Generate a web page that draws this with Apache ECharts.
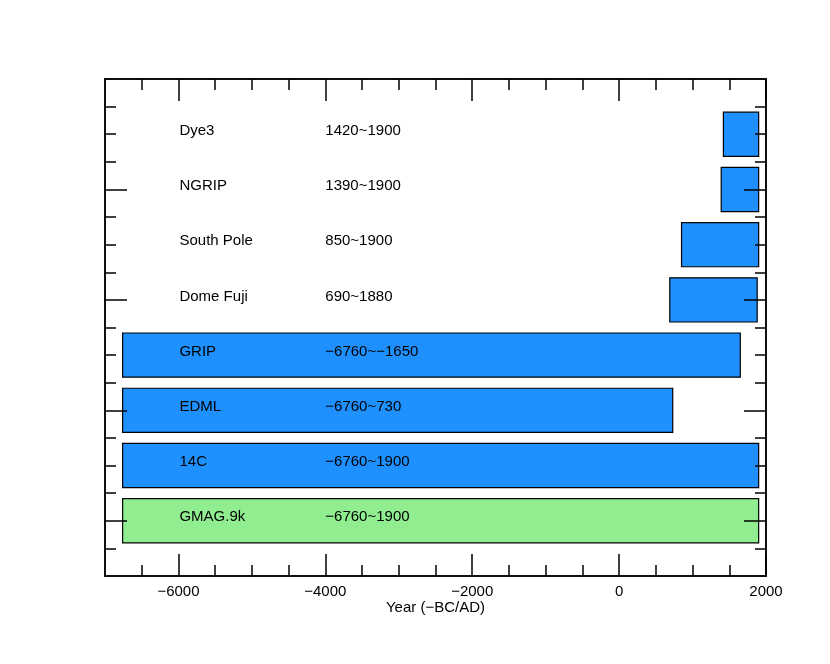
<!DOCTYPE html>
<html>
<head>
<meta charset="utf-8">
<script src="https://cdn.jsdelivr.net/npm/echarts@6/dist/echarts.min.js"></script>
<style>html,body{margin:0;padding:0;background:#fff;}#c{width:830px;height:664px;}</style>
</head>
<body>
<div id="c"></div>
<script>
const names = ['GMAG.9k','14C','EDML','GRIP','Dome Fuji','South Pole','NGRIP','Dye3'];
const starts = [-6760,-6760,-6760,-6760,690,850,1390,1420];
const ends = [1900,1900,730,1650,1880,1900,1900,1900];
const rangeLabels = ['\u22126760~1900','\u22126760~1900','\u22126760~730','\u22126760~\u22121650','690~1880','850~1900','1390~1900','1420~1900'];
const rows = [1,2,3,4,5,6,7,8];
const fills = ['#90EE90','#1E90FF','#1E90FF','#1E90FF','#1E90FF','#1E90FF','#1E90FF','#1E90FF'];
const xMajor = [-6000,-4000,-2000,0,2000];
const xMinor = [];
for (let v = -6500; v <= 1500; v += 500) xMinor.push(v);
const yMinor = [];
for (let v = 0.5; v <= 8.5; v += 0.5) yMinor.push(v);
const yMajor = [1,3,5,7];
const nameX = -6000, rangeX = -4000;

const FONT = '"Liberation Sans", Arial, Helvetica, sans-serif';
const lineStyle = {color:'#000', width:1.5};
function xAx(pos, ticks, len, labels) {
  return {type:'value', position:pos, min:-7000, max:2000, z:5,
    axisLine:{show:true, onZero:false, lineStyle},
    axisTick:{show:true, inside:true, length:len, customValues:ticks, lineStyle},
    axisLabel:{show:!!labels, customValues:labels||[], color:'#000', fontSize:15, fontFamily:FONT, margin:8,
      formatter:v=>String(v).replace('-','\u2212')},
    splitLine:{show:false}};
}
function yAx(pos, ticks, len) {
  return {type:'value', position:pos, min:0, max:9, z:5,
    axisLine:{show:true, onZero:false, lineStyle},
    axisTick:{show:true, inside:true, length:len, customValues:ticks, lineStyle},
    axisLabel:{show:false}, splitLine:{show:false}};
}
const xa0 = xAx('bottom', xMinor, 11, xMajor);
xa0.name = 'Year (\u2212BC/AD)'; xa0.nameLocation='middle'; xa0.nameGap=24; xa0.nameMoveOverlap=false;
xa0.nameTextStyle = {color:'#000', fontSize:15, fontFamily:FONT};
const data = rows.map((r,i)=>[starts[i], ends[i], r, i]);
const chart = echarts.init(document.getElementById('c'), null, {renderer:'canvas'});
chart.setOption({
  animation:false,
  backgroundColor:'#fff',
  grid:{left:105, top:79, width:661, height:497, containLabel:false},
  xAxis:[xa0, xAx('bottom', xMajor, 22), xAx('top', xMinor, 11), xAx('top', xMajor, 22)],
  yAxis:[yAx('left', yMinor, 11), yAx('left', yMajor, 22), yAx('right', yMinor, 11), yAx('right', yMajor, 22)],
  series:[{
    type:'custom', xAxisIndex:0, yAxisIndex:0, z:2,
    renderItem:function(params, api){
      const i = api.value(3);
      const p0 = api.coord([api.value(0), api.value(2)]);
      const p1 = api.coord([api.value(1), api.value(2)]);
      const h = api.size([0, 0.8])[1];
      const tn = api.coord([nameX, api.value(2)]);
      const tr = api.coord([rangeX, api.value(2)]);
      const dy = -3.5;
      return {type:'group', children:[
        {type:'rect', shape:{x:p0[0], y:p0[1]-h/2, width:p1[0]-p0[0], height:h},
          style:{fill:fills[i], stroke:'#000', lineWidth:1.2}},
        {type:'text', style:{text:names[i], x:tn[0]+1, y:tn[1]+dy, fill:'#000', font:'15px '+FONT, align:'left', verticalAlign:'middle'}},
        {type:'text', style:{text:rangeLabels[i], x:tr[0], y:tr[1]+dy, fill:'#000', font:'15px '+FONT, align:'left', verticalAlign:'middle'}}
      ]};
    },
    encode:{x:[0,1], y:2},
    data:data
  }]
});
</script>
</body>
</html>
